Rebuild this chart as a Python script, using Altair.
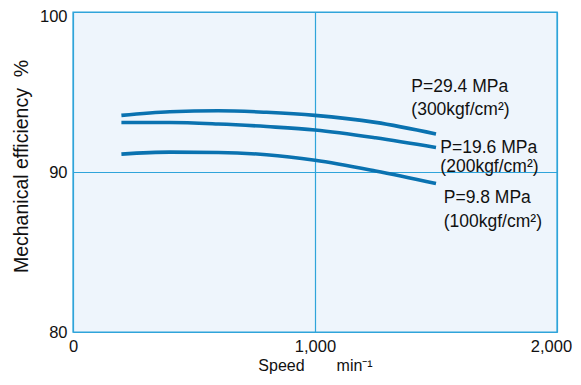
import altair as alt
import pandas as pd

# Curve data (speed min^-1, mechanical efficiency %)
speed = [200, 400, 600, 800, 1000, 1250, 1500]
eff_294 = [93.54, 93.77, 93.83, 93.73, 93.54, 93.10, 92.38]
eff_196 = [93.09, 93.09, 93.00, 92.84, 92.63, 92.14, 91.53]
eff_98 = [91.12, 91.24, 91.22, 91.08, 90.73, 90.06, 89.28]

series_names = ["P=29.4 MPa", "P=19.6 MPa", "P=9.8 MPa"]

# Annotation labels (anchored in data units)
label_text = ["P=29.4 MPa", "(300kgf/cm²)",
              "P=19.6 MPa", "(200kgf/cm²)",
              "P=9.8 MPa", "(100kgf/cm²)"]
label_x = [1398, 1398, 1518, 1518, 1532, 1532]
label_y = [95.32, 93.89, 91.53, 90.29, 88.37, 86.88]

x_ticks = [0, 1000, 2000]
y_ticks = [80, 90, 100]

LINE = "#0a72b0"
AXIS = "#2fa4da"
BG = "#eef5fc"
FONT = "Liberation Sans"

rows = []
for name, vals in zip(series_names, [eff_294, eff_196, eff_98]):
    for s, v in zip(speed, vals):
        rows.append({"series": name, "speed": s, "eff": v})
df = pd.DataFrame(rows)

xscale = alt.Scale(domain=[0, 2000], nice=False)
yscale = alt.Scale(domain=[80, 100], nice=False, zero=False)

xax = alt.Axis(values=x_ticks, labelExpr="format(datum.value, ',')", labelPadding=6,
               labelOffset={"condition": {"test": "datum.value == 2000", "value": -6}, "value": 0},
               title="Speed\u2003\u2003min⁻¹", titleFontSize=16, titlePadding=3)
yax = alt.Axis(values=y_ticks, labelPadding=6,
               labelOffset={"condition": {"test": "datum.value == 100", "value": 4.5}, "value": 0},
               title="Mechanical efficiency\u00a0\u00a0%", titleFontSize=19.5, titlePadding=8,
               titleY=154)

lines = alt.Chart(df).mark_line(strokeWidth=3.6, interpolate="monotone").encode(
    x=alt.X("speed:Q", scale=xscale, axis=xax),
    y=alt.Y("eff:Q", scale=yscale, axis=yax),
    detail="series:N",
    color=alt.value(LINE),
)

labels = alt.Chart(pd.DataFrame({"t": label_text, "x": label_x, "y": label_y})).mark_text(
    align="left", baseline="middle", font=FONT, fontSize=17.5
).encode(x=alt.X("x:Q", scale=xscale, axis=xax),
         y=alt.Y("y:Q", scale=yscale, axis=yax), text="t:N",
         color=alt.value("#111"))

chart = alt.layer(lines, labels).properties(
    width=484, height=320,
    autosize=alt.AutoSizeParams(type="none"),
    padding={"left": 65, "top": 4, "right": 16, "bottom": 45},
).configure_view(
    fill=BG, stroke=AXIS, strokeWidth=1.4
).configure_axis(
    grid=True, gridColor=AXIS, gridWidth=1.2, gridOpacity=1,
    domain=False, ticks=False, labelFlush=False,
    labelFont=FONT, labelFontSize=16.5, labelColor="#111",
    titleFont=FONT, titleFontWeight="normal", titleColor="#111",
)

chart.save("out.html", embed_options={"renderer": "svg", "actions": False})
